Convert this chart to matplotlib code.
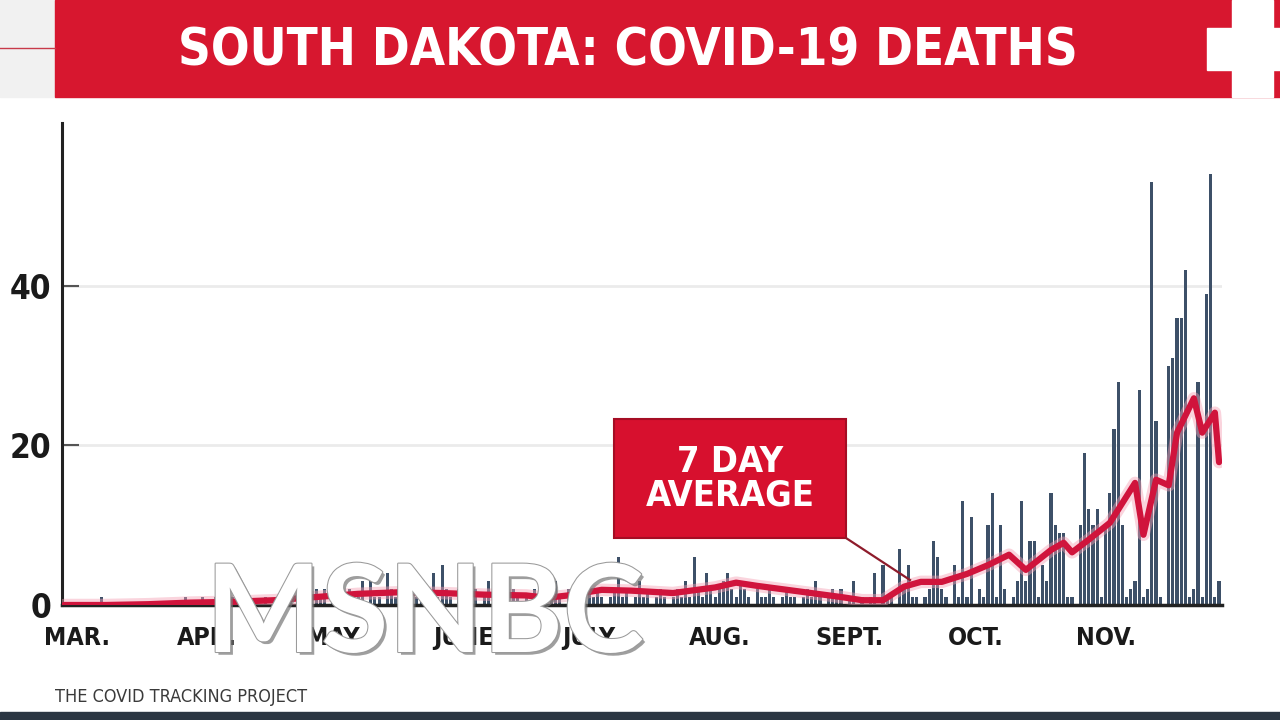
import numpy as np
import matplotlib.pyplot as plt
from matplotlib.patches import Rectangle
import matplotlib.patheffects as pe

# daily deaths, Mar 1 -> Dec 1
mar = [0, 0, 0, 0, 0, 0, 0, 0, 0, 1, 0, 0, 0, 0, 0, 0, 0, 0, 0, 0,
       0, 0, 0, 0, 0, 0, 0, 0, 0, 1, 0]
apr = [0, 0, 1, 0, 0, 1, 0, 0, 0, 1, 0, 0, 1, 0, 0, 0, 0, 1, 0, 0,
       1, 0, 0, 2, 0, 1, 0, 0, 1, 2]
may = [1, 2, 0, 1, 0, 4, 1, 2, 0, 1, 3, 0, 5, 1, 1, 0, 4, 2, 1, 0,
       1, 2, 0, 1, 3, 0, 0, 4, 1, 5, 2]
jun = [1, 0, 2, 1, 0, 1, 2, 0, 1, 3, 0, 1, 4, 1, 0, 2, 1, 0, 1, 0,
       2, 1, 2, 0, 1, 3, 1, 0, 2, 1]
jul = [2, 1, 0, 3, 1, 2, 1, 0, 1, 2, 6, 1, 2, 0, 1, 3, 1, 2, 0, 1,
       2, 1, 0, 1, 2, 1, 3, 1, 6, 2, 1]
aug = [4, 2, 1, 2, 3, 4, 2, 1, 3, 2, 1, 0, 2, 1, 1, 2, 1, 0, 1, 2,
       1, 1, 0, 1, 2, 1, 3, 1, 0, 1, 2]
sep = [1, 2, 0, 1, 3, 0, 1, 0, 1, 4, 0, 5, 1, 1, 0, 7, 2, 5, 1, 1,
       0, 1, 2, 8, 6, 2, 1, 0, 5, 1]
octo = [13, 1, 11, 0, 2, 1, 10, 14, 1, 10, 2, 0, 1, 3, 13, 3, 8, 8, 1, 5,
        3, 14, 10, 9, 9, 1, 1, 0, 10, 19, 12]
nov = [10, 12, 1, 10, 14, 22, 28, 10, 1, 2, 3, 27, 1, 2, 53, 23, 1, 0, 30, 31,
       36, 36, 42, 1, 2, 28, 1, 39, 54, 1]
dec = [3]

deaths = mar + apr + may + jun + jul + aug + sep + octo + nov + dec
days = np.arange(len(deaths))

# 7 day average
avg_days = [0, 10, 20, 30, 40, 50, 60, 70, 80, 90, 100, 110, 115, 120, 128, 135,
            145, 155, 160, 165, 175, 185, 190, 195, 200, 204, 209, 215, 220, 225,
            229, 235, 238, 240, 244, 249, 255, 257, 260, 263, 265, 269, 271, 274, 275]
avg_vals = [0, 0, 0.1, 0.3, 0.4, 0.6, 1.0, 1.4, 1.6, 1.5, 1.3, 1.2, 0.9, 1.2, 1.9, 1.8,
            1.5, 2.2, 2.8, 2.4, 1.7, 1.0, 0.6, 0.6, 2.3, 2.9, 2.9, 3.9, 5.0, 6.3,
            4.4, 6.9, 7.8, 6.6, 8.2, 10.3, 15.3, 8.8, 15.7, 15.0, 21.6, 25.9, 21.6, 24.1, 17.9]

month_names = ['MAR.', 'APR.', 'MAY', 'JUNE', 'JULY', 'AUG.', 'SEPT.', 'OCT.', 'NOV.']
month_starts = [0, 31, 61, 92, 122, 153, 184, 214, 245]

cond = dict(family='DejaVu Sans', fontstretch='condensed', fontweight='bold')
W, H = 1280, 720

fig = plt.figure(figsize=(12.8, 7.2), dpi=100)
fig.patch.set_facecolor('white')

# main chart
ax = fig.add_axes([62 / W, 1 - 605 / H, (1222 - 62) / W, (605 - 123) / H])
ax.bar(days, deaths, width=0.75, color='#3d5068', zorder=2)
ax.plot(avg_days, avg_vals, color='#f5a0b4', lw=9, alpha=0.45, zorder=3,
        solid_joinstyle='round', solid_capstyle='round')
ax.plot(avg_days, avg_vals, color='#d0143c', lw=4.5, zorder=4,
        solid_joinstyle='round', solid_capstyle='round')
ax.set_xlim(-0.5, 275.7)
ax.set_ylim(0, 60.4)

for y in [20, 40]:
    ax.axhline(y, color='#ebebeb', lw=2, zorder=1)

for s in ['top', 'right']:
    ax.spines[s].set_visible(False)
ax.spines['left'].set_linewidth(2.2)
ax.spines['left'].set_color('#222222')
ax.spines['bottom'].set_linewidth(2.5)
ax.spines['bottom'].set_color('#222222')

ax.set_yticks([0, 20, 40])
ax.set_yticklabels(['0', '20', '40'], fontsize=24, color='#1a1a1a', **cond)
ax.tick_params(axis='y', direction='in', length=12, width=1.5, color='#555555', pad=8)
ax.set_xticks([m + 3 for m in month_starts])
ax.set_xticklabels(month_names, fontsize=18, color='#1a1a1a', **cond)
ax.tick_params(axis='x', length=0, pad=15)

# overlay in pixel coordinates for the broadcast graphics
ov = fig.add_axes([0, 0, 1, 1], zorder=5)
ov.set_xlim(0, W)
ov.set_ylim(H, 0)
ov.axis('off')
ov.patch.set_alpha(0)

ov.add_patch(Rectangle((0, 0), 55, 97, color='#f1f1f1'))
ov.plot([0, 55], [48, 48], color='#c83a4a', lw=1)
ov.add_patch(Rectangle((55, 0), W - 55, 97, color='#d7172f'))
ov.add_patch(Rectangle((1232, 0), 41, 97, color='white'))
ov.add_patch(Rectangle((1207, 28), 80, 42, color='white'))
ov.text(628, 52, 'SOUTH DAKOTA: COVID-19 DEATHS', color='white', fontsize=36.5,
        ha='center', va='center', **cond)

# 7 day average callout
ov.plot([846, 910], [538, 580], color='#8e1b2b', lw=1.6)
ov.add_patch(Rectangle((614, 419), 232, 119, facecolor='#d7102e', edgecolor='#a50d24', lw=1.5))
ov.text(730, 479, '7 DAY\nAVERAGE', color='white', fontsize=26,
        ha='center', va='center', linespacing=1.0, **cond)

# network watermark
ov.text(425, 617, 'MSNBC', color='white', fontsize=88, fontweight='bold',
        family=['Lato', 'DejaVu Sans'], ha='center', va='center',
        path_effects=[pe.withSimplePatchShadow(offset=(2, -2), shadow_rgbFace='#777777', alpha=0.7),
                      pe.withStroke(linewidth=1.5, foreground='#9a9a9a')])

ov.text(55, 697, 'THE COVID TRACKING PROJECT', color='#3a3a3a', fontsize=13,
        family='DejaVu Sans', fontstretch='condensed', ha='left', va='center')
ov.add_patch(Rectangle((0, 712), W, 8, color='#2b3642'))

plt.savefig('out.png', dpi=100)
